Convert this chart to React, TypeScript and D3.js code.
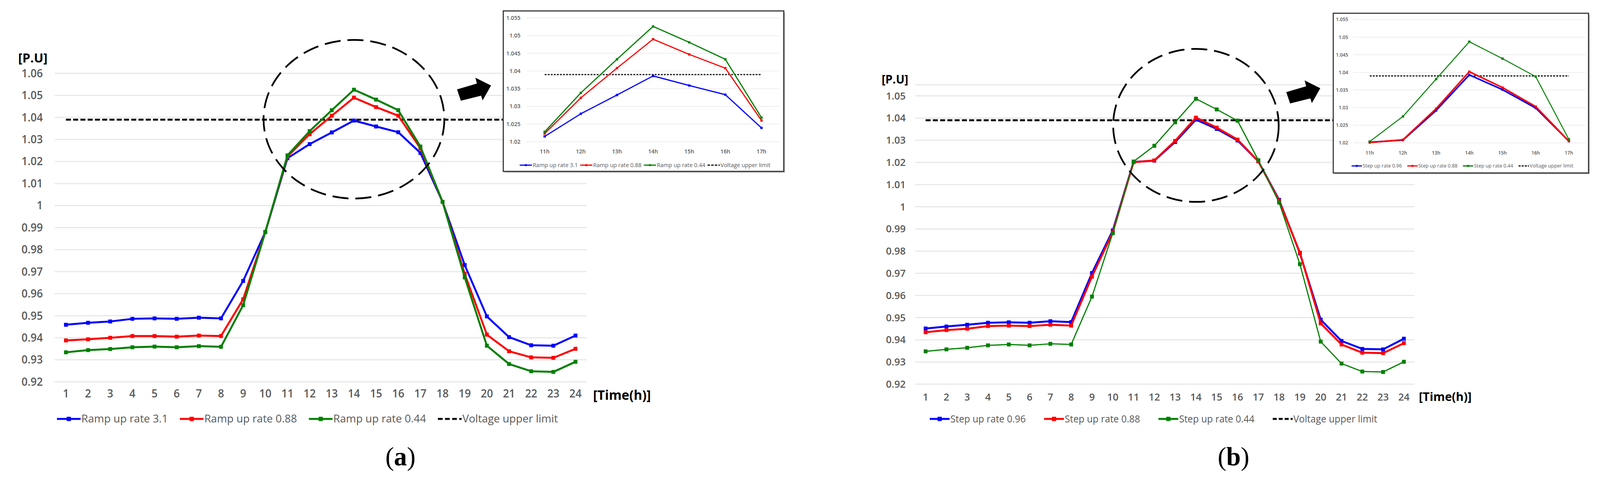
import * as d3 from 'd3';

// hours on the main axis and on the zoomed inset
const hours = ['1', '2', '3', '4', '5', '6', '7', '8', '9', '10', '11', '12', '13', '14', '15', '16', '17', '18', '19', '20', '21', '22', '23', '24'];
const zoomHours = ['11h', '12h', '13h', '14h', '15h', '16h', '17h'];

const mainTicksA = [0.92, 0.93, 0.94, 0.95, 0.96, 0.97, 0.98, 0.99, 1, 1.01, 1.02, 1.03, 1.04, 1.05, 1.06];
const mainTicksB = [0.92, 0.93, 0.94, 0.95, 0.96, 0.97, 0.98, 0.99, 1, 1.01, 1.02, 1.03, 1.04, 1.05];
const zoomTicks = [1.02, 1.025, 1.03, 1.035, 1.04, 1.045, 1.05, 1.055];

const voltageLimit = 1.039;

// (a) ramp up rate
const ramp31 = [0.9459, 0.9468, 0.9474, 0.9486, 0.9488, 0.9486, 0.9491, 0.9488, 0.9658, 0.988, 1.0215, 1.0279, 1.0332, 1.0386, 1.0359, 1.0333, 1.0239, 1.0017, 0.973, 0.9497, 0.9403, 0.9366, 0.9364, 0.941];
const ramp088 = [0.9388, 0.9393, 0.94, 0.9408, 0.9408, 0.9405, 0.941, 0.9408, 0.9575, 0.988, 1.0223, 1.0324, 1.0408, 1.049, 1.0447, 1.0408, 1.026, 1.0017, 0.969, 0.9414, 0.9339, 0.9311, 0.9309, 0.935];
const ramp044 = [0.9334, 0.9344, 0.9349, 0.9357, 0.936, 0.9357, 0.9362, 0.9359, 0.9548, 0.988, 1.0228, 1.0338, 1.0433, 1.0526, 1.0481, 1.0433, 1.0268, 1.0017, 0.9674, 0.9364, 0.9281, 0.9248, 0.9245, 0.9291];

// (b) step up rate
const step096 = [0.9451, 0.946, 0.9468, 0.9477, 0.9479, 0.9477, 0.9484, 0.948, 0.9701, 0.9893, 1.0202, 1.0208, 1.0292, 1.0393, 1.0351, 1.0299, 1.0205, 1.0031, 0.979, 0.9491, 0.9395, 0.9359, 0.9357, 0.9405];
const step088 = [0.9434, 0.9444, 0.945, 0.9462, 0.9464, 0.9462, 0.9468, 0.9464, 0.9685, 0.9885, 1.0201, 1.0209, 1.0297, 1.0402, 1.0357, 1.0303, 1.0205, 1.0027, 0.9793, 0.9474, 0.9379, 0.9342, 0.934, 0.9385];
const step044 = [0.9348, 0.9357, 0.9364, 0.9375, 0.9379, 0.9375, 0.9382, 0.9379, 0.9595, 0.9881, 1.0204, 1.0275, 1.0381, 1.0487, 1.0439, 1.0388, 1.021, 1.0019, 0.9741, 0.9392, 0.9293, 0.9257, 0.9255, 0.9301];

const rampLabels = ['Ramp up rate 3.1', 'Ramp up rate 0.88', 'Ramp up rate 0.44'];
const stepLabels = ['Step up rate 0.96', 'Step up rate 0.88', 'Step up rate 0.44'];
const limitLabel = 'Voltage upper limit';
const colors = ['#0000ff', '#ff0000', '#008000'];

const W = 4187;
const H = 1232;
const FONT = "'Open Sans', 'Liberation Sans', sans-serif";
const TEXT = '#595959';

const ctx = document.createElement('canvas').getContext('2d')!;
const measure = (s: string, size: number) => {
  ctx.font = `${size}px "Open Sans", "Liberation Sans", sans-serif`;
  return ctx.measureText(s).width;
};

const panels = [
  {
    series: [ramp31, ramp088, ramp044], labels: rampLabels, caption: 'a',
    ticks: mainTicksA, domain: [0.92, 1.06], gridTop: 1.06,
    left: 143.5, right: 1535, top: 188, bottom: 978,
    font: 28, yLabelX: 112, xLabelY: 1008,
    time: { x: 1552, y: 1012, font: 34 }, pu: { x: 86, y: 148, font: 33 },
    legend: { x0: 149, x1: 1460, y: 1073, font: 27, lineLen: 62, gap: 31 }, cap: [1048, 1192],
    widths: [5, 5, 5],
    ellipse: { hour: '14', value: 1.0392, rxBands: 4.08, ry: 0.036 },
    arrow: [1285, 219],
    inset: {
      box: [1317, 28, 2051, 439], left: 1378, right: 2040, top: 46, bottom: 363,
      yLabelX: 1362, xLabelY: 388, font: 14.5,
      legend: { x0: 1360, x1: 2016, y: 423, font: 14, lineLen: 32, gap: 6 },
      widths: [3, 3, 3],
    },
  },
  {
    series: [step096, step088, step044], labels: stepLabels, caption: 'b',
    ticks: mainTicksB, domain: [0.92, 1.055], gridTop: 1.055,
    left: 2395, right: 3701, top: 217.2, bottom: 984,
    font: 26, yLabelX: 2370, xLabelY: 1017,
    time: { x: 3713, y: 1016, font: 31 }, pu: { x: 2342, y: 204, font: 30 },
    legend: { x0: 2433, x1: 3604, y: 1073, font: 25, lineLen: 52, gap: 48 }, cap: [3228, 1192],
    widths: [5, 5, 3],
    ellipse: { hour: '14', value: 1.0367, rxBands: 3.98, ry: 0.0345 },
    arrow: [3455, 226],
    inset: {
      box: [3489, 34, 4157, 443], left: 3541, right: 4149, top: 50, bottom: 366,
      yLabelX: 3528, xLabelY: 392, font: 12.5,
      legend: { x0: 3537, x1: 4117, y: 425, font: 12.5, lineLen: 27, gap: 14 },
      widths: [4, 4, 2.5],
    },
  },
];

// relative to the arrow tip
const arrowShape = [[-89, 10], [-37, -5], [-41, -20], [0, 0], [-22, 38], [-26, 26], [-79, 39]];

function Legend({ x0, x1, y, font, lineLen, gap, marker, labels, thick }: any) {
  const items = [...labels.map((l: string, i: number) => ({ l, c: colors[i], dash: false })), { l: limitLabel, c: '#000', dash: true }];
  const raw = items.map((d) => measure(d.l, font));
  // stretch the texts so the row spans x0..x1 with the given gaps
  const k = (x1 - x0 - items.length * (lineLen + 2) - (items.length - 1) * gap) / d3.sum(raw);
  let cur = x0;
  return (
    <g>
      {items.map((d, i) => {
        const sx = cur;
        const tw = raw[i] * k;
        cur += lineLen + 2 + tw + gap;
        return (
          <g key={d.l}>
            <line x1={sx} x2={sx + lineLen} y1={y} y2={y} stroke={d.c} strokeWidth={thick}
              strokeDasharray={d.dash ? `${lineLen / 5},${lineLen / 10}` : undefined} />
            {!d.dash && <rect x={sx + lineLen / 2 - marker / 2} y={y - marker / 2} width={marker} height={marker} fill={d.c} />}
            <text x={sx + lineLen + 2} y={y} dy="0.35em" fontSize={font} fill={TEXT} fontFamily={FONT}
              textLength={tw} lengthAdjust="spacingAndGlyphs">{d.l}</text>
          </g>
        );
      })}
    </g>
  );
}

function Inset({ p }: any) {
  const s = p.inset;
  const [bl, bt, br, bb] = s.box;
  const x = d3.scaleBand().domain(zoomHours).range([s.left, s.right]);
  const y = d3.scaleLinear().domain([1.02, 1.055]).range([s.bottom, s.top]);
  const cx = (h: string) => x(h)! + x.bandwidth() / 2;
  const line = d3.line<number>().x((_, i) => cx(zoomHours[i])).y((v) => y(v));
  return (
    <g>
      <rect x={bl + 3} y={bt + 3} width={br - bl} height={bb - bt} fill="#b0b0b0" />
      <rect x={bl} y={bt} width={br - bl} height={bb - bt} fill="#fff" stroke="#3a3a3a" strokeWidth={3} />
      {zoomTicks.map((t) => (
        <g key={t}>
          <line x1={s.left} x2={s.right} y1={y(t)} y2={y(t)} stroke="#eeeeee" strokeWidth={2} />
          <text x={s.yLabelX} y={y(t)} dy="0.35em" textAnchor="end" fontSize={s.font} fontWeight={600} fill={TEXT} fontFamily={FONT}>{t}</text>
        </g>
      ))}
      {zoomHours.map((h) => (
        <text key={h} x={cx(h)} y={s.xLabelY} dy="0.35em" textAnchor="middle" fontSize={s.font} fontWeight={600} fill={TEXT} fontFamily={FONT}>{h}</text>
      ))}
      <line x1={cx(zoomHours[0])} x2={cx(zoomHours[6])} y1={y(voltageLimit)} y2={y(voltageLimit)}
        stroke="#111" strokeWidth={3} strokeDasharray="5,3" />
      {p.series.map((arr: number[], k: number) => {
        const vals = arr.slice(10, 17);
        return (
          <g key={k}>
            <path d={line(vals)!} fill="none" stroke={colors[k]} strokeWidth={s.widths[k]} strokeLinejoin="round" />
            {vals.map((v, i) => (
              <rect key={i} x={cx(zoomHours[i]) - 3} y={y(v) - 3} width={6} height={6} fill={colors[k]} />
            ))}
          </g>
        );
      })}
      <Legend {...s.legend} marker={5} labels={p.labels} thick={3} />
    </g>
  );
}

function Panel({ p }: any) {
  const x = d3.scaleBand().domain(hours).range([p.left, p.right]);
  const y = d3.scaleLinear().domain(p.domain).range([p.bottom, p.top]);
  const cx = (h: string) => x(h)! + x.bandwidth() / 2;
  const line = d3.line<number>().x((_, i) => cx(hours[i])).y((v) => y(v));
  const grid = p.ticks.includes(p.gridTop) ? p.ticks : [...p.ticks, p.gridTop];
  const e = p.ellipse;
  const [ax, ay] = p.arrow;
  return (
    <g>
      {grid.map((t: number) => (
        <line key={t} x1={p.left} x2={p.right} y1={y(t)} y2={y(t)} stroke="#e8e8e8" strokeWidth={3} />
      ))}
      {p.ticks.map((t: number) => (
        <text key={t} x={p.yLabelX} y={y(t)} dy="0.35em" textAnchor="end" fontSize={p.font} fontWeight={600} fill={TEXT} fontFamily={FONT}>{t}</text>
      ))}
      {hours.map((h) => (
        <text key={h} x={cx(h)} y={p.xLabelY} dy="0.35em" textAnchor="middle" fontSize={p.font} fontWeight={600} fill={TEXT} fontFamily={FONT}>{h}</text>
      ))}
      <text x={p.time.x} y={p.time.y} dy="0.35em" fontSize={p.time.font} fontWeight="bold" fontFamily={FONT}>[Time(h)]</text>
      <text x={p.pu.x} y={p.pu.y} dy="0.35em" textAnchor="middle" fontSize={p.pu.font} fontWeight="bold" fontFamily={FONT}>[P.U]</text>
      <line x1={cx('1')} x2={cx('24')} y1={y(voltageLimit)} y2={y(voltageLimit)} stroke="#000" strokeWidth={5} strokeDasharray="13,6" />
      {p.series.map((arr: number[], k: number) => (
        <g key={k}>
          <path d={line(arr)!} fill="none" stroke={colors[k]} strokeWidth={p.widths[k]} strokeLinejoin="round" />
          {arr.map((v, i) => (
            <rect key={i} x={cx(hours[i]) - 5} y={y(v) - 5} width={10} height={10} fill={colors[k]} />
          ))}
        </g>
      ))}
      <ellipse cx={cx(e.hour)} cy={y(e.value)} rx={x.bandwidth() * e.rxBands} ry={y(e.value - e.ry) - y(e.value)}
        fill="none" stroke="#000" strokeWidth={4.5} strokeDasharray="42,18" />
      <polygon points={arrowShape.map(([dx, dy]) => `${ax + dx},${ay + dy}`).join(' ')} fill="#000" />
      <Inset p={p} />
      <Legend {...p.legend} marker={11} labels={p.labels} thick={5} />
      <text x={p.cap[0]} y={p.cap[1]} textAnchor="middle" fontSize={68} fontFamily="'Liberation Serif', serif">
        (<tspan fontWeight="bold">{p.caption}</tspan>)
      </text>
    </g>
  );
}

export default function App() {
  // the svg fills the viewport whatever its real width, so nothing is cut off at the right
  return (
    <svg viewBox={`0 0 ${W} ${H}`} preserveAspectRatio="none"
      style={{ position: 'absolute', left: 0, top: 0, width: '100%', height: '100%', display: 'block', background: '#fff' }}>
      <rect width={W} height={H} fill="#fff" />
      {panels.map((p) => (
        <Panel key={p.caption} p={p} />
      ))}
    </svg>
  );
}
